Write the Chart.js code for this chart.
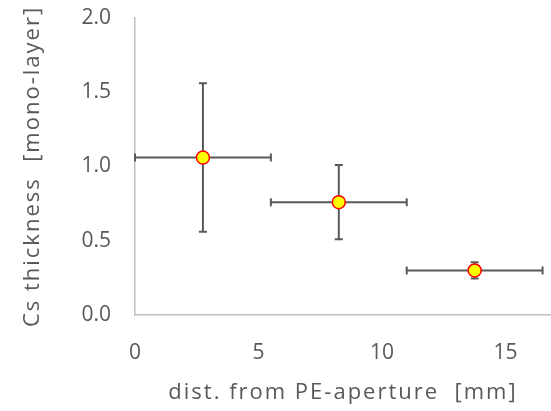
<!DOCTYPE html>
<html>
<head>
<meta charset="utf-8">
<script src="https://cdn.jsdelivr.net/npm/chart.js@4"></script>
<style>
  html, body { margin: 0; padding: 0; background: #ffffff; }
  #wrap { width: 551px; height: 411px; }
</style>
</head>
<body>
<div id="wrap"><canvas id="myChart"></canvas></div>
<script>
'use strict';

// data
let distValues = [2.75, 8.25, 13.75];
let distErrors = [2.75, 2.75, 2.75];
let thicknessValues = [1.06, 0.76, 0.30];
let thicknessErrors = [0.50, 0.25, 0.055];
let xTicks = [0, 5, 10, 15];
let yTicks = [0, 0.5, 1.0, 1.5, 2.0];

let textGray = '#595959';
let fontFamily = "'Open Sans', sans-serif";
const ctx = document.getElementById('myChart');

// build points
let points = [];
for (let i in distValues){
  points.push({x: distValues[i], y: thicknessValues[i]});
}

// error bars plugin, drawn under the markers
let errorBarPlugin = {
  id: 'errorBars',
  beforeDatasetsDraw(chart){
    let c = chart.ctx;
    let xs = chart.scales.x;
    let ys = chart.scales.y;
    let cap = 4;
    c.save();
    c.strokeStyle = textGray;
    c.lineWidth = 2;
    for (let i in distValues){
      let px = xs.getPixelForValue(distValues[i]);
      let py = ys.getPixelForValue(thicknessValues[i]);
      let x1 = xs.getPixelForValue(distValues[i] - distErrors[i]);
      let x2 = xs.getPixelForValue(distValues[i] + distErrors[i]);
      let y1 = ys.getPixelForValue(thicknessValues[i] - thicknessErrors[i]);
      let y2 = ys.getPixelForValue(thicknessValues[i] + thicknessErrors[i]);
      c.beginPath();
      c.moveTo(x1, py); c.lineTo(x2, py);
      c.moveTo(x1, py - cap); c.lineTo(x1, py + cap);
      c.moveTo(x2, py - cap); c.lineTo(x2, py + cap);
      c.moveTo(px, y1); c.lineTo(px, y2);
      c.moveTo(px - cap, y1); c.lineTo(px + cap, y1);
      c.moveTo(px - cap, y2); c.lineTo(px + cap, y2);
      c.stroke();
    }
    c.restore();
  }
};

// axis titles get a little letter spacing, like the original
function spaceTitle(scale){
  if (scale._spaced) return;
  scale._spaced = true;
  let orig = scale.drawTitle;
  scale.drawTitle = function(){
    this.ctx.save();
    this.ctx.letterSpacing = '2px';
    orig.call(this);
    this.ctx.restore();
  };
}

let chartObj = {
  type: 'scatter',
  data: {
    datasets: [{
      data: points,
      pointRadius: 6.5,
      pointHoverRadius: 6.5,
      borderWidth: 1.5,
      borderColor: '#ff0000',
      backgroundColor: '#ffff00'
    }]
  },
  options: {
    responsive: true,
    maintainAspectRatio: false,
    animation: false,
    layout: { autoPadding: false, padding: { top: 18, right: 0, bottom: 0, left: 0 } },
    plugins: {
      legend: { display: false },
      tooltip: { enabled: false }
    },
    scales: {
      x: {
        type: 'linear',
        min: 0,
        max: 16.84,
        afterBuildTicks(scale){
          scale.ticks = xTicks.map(v => ({value: v}));
        },
        afterFit(scale){
          scale.height = 96;
          scale.paddingLeft = 0;
          scale.paddingRight = 0;
          spaceTitle(scale);
        },
        grid: { display: false, drawTicks: false },
        border: { display: true, color: '#bfbfbf', width: 1.5 },
        ticks: {
          padding: 25,
          color: textGray,
          font: { family: fontFamily, size: 21 }
        },
        title: {
          display: true,
          text: 'dist. from PE-aperture  [mm]',
          color: textGray,
          font: { family: fontFamily, size: 22 },
          padding: { top: 0, bottom: 5 }
        }
      },
      y: {
        min: 0,
        max: 2,
        afterBuildTicks(scale){
          scale.ticks = yTicks.map(v => ({value: v}));
        },
        afterFit(scale){
          scale.width = 135;
          scale.paddingTop = 0;
          scale.paddingBottom = 0;
          spaceTitle(scale);
        },
        grid: { display: false, drawTicks: false },
        border: { display: true, color: '#bfbfbf', width: 1.5 },
        ticks: {
          padding: 24,
          color: textGray,
          font: { family: fontFamily, size: 21 },
          callback: v => v.toFixed(1)
        },
        title: {
          display: true,
          text: 'Cs thickness  [mono-layer]',
          color: textGray,
          font: { family: fontFamily, size: 22 },
          padding: { top: 20, bottom: 0 }
        }
      }
    }
  },
  plugins: [errorBarPlugin]
};

new Chart(ctx, chartObj);
</script>
</body>
</html>
